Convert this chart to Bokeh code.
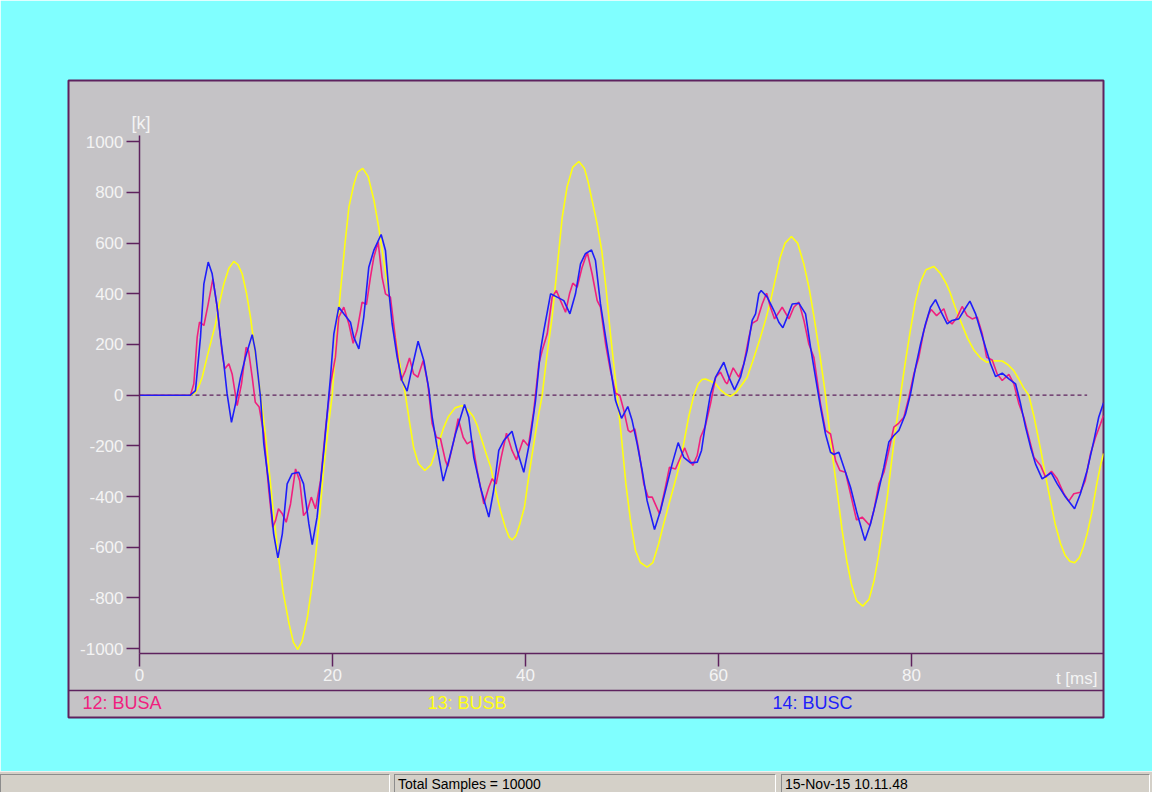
from bokeh.plotting import figure
from bokeh.layouts import column
from bokeh.models import LinearAxis, FixedTicker, Range1d, Label, Span, Div
from bokeh.embed import file_html
from bokeh.resources import INLINE

# ---------------- data (t in ms, values in k) ----------------
Y_TICKS = [-1000, -800, -600, -400, -200, 0, 200, 400, 600, 800, 1000]
X_TICKS = [0, 20, 40, 60, 80]
SERIES_NAMES = ["12: BUSA", "13: BUSB", "14: BUSC"]
STATUS_TEXTS = ["", "Total Samples = 10000", "15-Nov-15 10.11.48"]

ZERO_T = [0, 98.2]
ZERO_V = [0, 0]

BUSB_T = [0.0, 5.3, 5.8, 6.2, 6.5, 7.0, 7.5, 7.88, 8.3, 8.74, 9.25, 9.77, 10.2, 10.64, 11.1, 11.5,
          12.0, 12.54, 13.0, 13.4, 13.9, 14.4, 14.9, 15.5, 15.95, 16.4, 16.85, 17.4, 17.8, 18.24,
          18.7, 19.1, 19.55, 19.97, 20.4, 20.83, 21.3, 21.7, 22.2, 22.6, 23.14, 23.7, 24.3, 24.8,
          25.3, 25.8, 26.2, 26.7, 27.1, 27.56, 28.0, 28.4, 28.9, 29.57, 30.2, 30.9, 31.5, 32.0,
          32.7, 33.44, 34.1, 34.6, 35.0, 35.5, 36.0, 36.4, 36.9, 37.4, 37.9, 38.3, 38.62, 39.0,
          39.4, 39.9, 40.3, 40.7, 41.2, 41.73, 42.2, 42.76, 43.3, 43.8, 44.3, 44.9, 45.53, 46.1,
          46.5, 46.9, 47.4, 47.9, 48.35, 48.8, 49.15, 49.5, 49.95, 50.4, 50.9, 51.4, 51.9, 52.6,
          53.2, 53.8, 54.3, 54.87, 55.4, 55.9, 56.4, 56.9, 57.44, 57.9, 58.3, 58.65, 59.2, 59.7,
          60.2, 60.7, 61.24, 61.8, 62.4, 62.97, 63.6, 64.35, 64.9, 65.4, 65.9, 66.4, 66.9, 67.56,
          68.2, 68.84, 69.4, 69.9, 70.5, 71.09, 71.7, 72.3, 72.8, 73.3, 73.8, 74.3, 74.95, 75.6,
          76.1, 76.6, 77.1, 77.5, 78.0, 78.4, 78.86, 79.4, 79.9, 80.4, 80.9, 81.5, 82.31, 83.0,
          83.6, 84.0, 84.5, 85.06, 85.8, 86.5, 87.2, 87.8, 88.6, 89.4, 90.0, 90.6, 91.1, 91.6,
          92.16, 92.7, 93.4, 93.9, 94.4, 94.9, 95.45, 95.9, 96.4, 96.9, 97.4, 97.8, 98.2, 98.7,
          99.2, 99.6, 99.9]
BUSB_V = [0, 0, 10, 40, 71, 150, 225, 281, 365, 439, 500, 528, 515, 479, 400, 308,
          165, 0, -140, -284, -470, -639, -780, -902, -975, -1003, -970, -876, -770, -639,
          -460, -284, -130, 0, 220, 413, 600, 742, 830, 880, 895, 862, 768, 660,
          531, 410, 300, 189, 95, 0, -110, -205, -270, -297, -275, -200, -130, -85,
          -50, -41, -60, -85, -120, -180, -240, -284, -375, -455, -520, -560, -571, -555,
          -510, -440, -330, -230, -110, 0, 150, 308, 510, 700, 820, 900, 922, 895,
          840, 768, 680, 571, 420, 242, 120, 0, -170, -350, -500, -613, -660, -678,
          -660, -586, -510, -429, -355, -284, -190, -87, 0, 45, 62, 64, 55, 45,
          21, 5, -4, 10, 40, 71, 140, 229, 300, 373, 460, 544, 600, 626,
          600, 518, 420, 308, 160, 0, -205, -380, -530, -655, -750, -810, -832, -805,
          -735, -630, -500, -400, -240, -120, 0, 140, 260, 370, 445, 495, 508, 480,
          440, 405, 350, 295, 225, 176, 145, 130, 136, 135, 120, 97, 65, 30,
          0, -85, -218, -320, -416, -510, -586, -630, -655, -661, -640, -600, -547, -460,
          -350, -275, -230]

BUSA_T = [0, 5.28, 5.63, 5.98, 6.22, 6.67, 7.12, 7.6, 8.05, 8.57, 8.84, 9.26, 9.6, 10.12, 10.57,
          11.05, 11.3, 11.68, 12.0, 12.4, 12.88, 13.4, 13.8, 14.1, 14.4, 14.8, 15.2, 15.65, 16.17,
          16.6, 17.0, 17.4, 17.8, 18.24, 18.76, 19.3, 19.8, 20.3, 20.65, 21.17, 21.7, 22.14, 22.55,
          23.07, 23.52, 23.93, 24.28, 24.73, 25.14, 25.49, 26.0, 26.5, 27.1, 27.56, 27.98, 28.4,
          28.84, 29.4, 29.88, 30.33, 30.77, 31.19, 31.7, 31.95, 32.57, 33.02, 33.54, 33.95, 34.47,
          34.99, 35.68, 36.2, 36.54, 36.96, 37.48, 38.03, 38.6, 39.06, 39.76, 40.3, 40.86, 41.38,
          41.73, 42.25, 42.76, 43.2, 43.63, 44.15, 44.56, 44.9, 45.35, 45.87, 46.4, 46.9, 47.43,
          47.77, 48.3, 48.8, 49.33, 49.78, 50.19, 50.64, 50.88, 51.33, 51.74, 52.26, 52.7, 53.13,
          53.89, 54.5, 54.92, 55.54, 56.06, 56.5, 56.93, 57.34, 57.79, 58.14, 58.65, 59.17, 59.7,
          60.2, 60.73, 60.9, 61.52, 62.11, 62.63, 63.15, 63.49, 64.0, 64.53, 64.98, 65.39, 65.81,
          66.6, 67.3, 67.81, 68.33, 68.85, 69.36, 69.88, 70.57, 71.09, 71.61, 72.13, 72.58, 73.16,
          73.68, 74.3, 74.89, 75.68, 76.1, 76.62, 77.14, 77.65, 78.17, 78.69, 79.21, 79.73, 80.25,
          80.76, 81.28, 81.8, 82.04, 82.6, 83.35, 83.77, 84.2, 84.74, 85.25, 85.77, 86.29, 86.81,
          87.33, 87.78, 88.36, 88.88, 89.4, 90.09, 90.61, 91.13, 91.64, 92.16, 92.68, 93.37, 93.89,
          94.5, 95.1, 95.79, 96.3, 96.82, 97.5, 98.0, 98.55, 99.07, 99.59, 99.9]
BUSA_V = [0, 0, 45, 229, 288, 275, 360, 459, 347, 163, 104, 124, 84, -41, 45,
          189, 175, 71, -28, -47, -153, -376, -521, -494, -448, -468, -501, -429, -291,
          -337, -475, -455, -402, -448, -337, -126, 45, 150, 308, 347, 281, 205, 255,
          367, 358, 465, 544, 604, 465, 400, 387, 229, 58, 97, 147, 84,
          71, 137, 45, -113, -166, -172, -258, -281, -179, -93, -166, -192, -179,
          -297, -429, -363, -330, -350, -245, -150, -218, -255, -176, -200, -60, 124,
          176, 242, 387, 413, 373, 327, 400, 442, 426, 505, 564, 479, 373,
          347, 202, 97, 8, -1, -60, -139, -146, -133, -218, -350, -402, -402,
          -468, -363, -284, -291, -245, -208, -251, -277, -238, -166, -120, -34, 71,
          91, 51, 45, 108, 71, 124, 229, 284, 295, 360, 402, 347, 301,
          347, 301, 347, 367, 295, 202, 150, -34, -139, -153, -258, -297, -304,
          -389, -492, -481, -514, -455, -350, -304, -218, -126, -110, -87, -8, 85,
          150, 255, 321, 338, 314, 341, 295, 281, 308, 350, 314, 301, 308,
          242, 150, 139, 84, 58, 82, 45, -34, -87, -166, -245, -277, -323,
          -300, -330, -389, -418, -389, -383, -337, -231, -166, -113, -80]

BUSC_T = [0, 5.28, 5.8, 6.32, 6.67, 7.12, 7.53, 8.05, 8.39, 8.74, 9.08, 9.53, 9.95, 10.47, 10.98,
          11.68, 12.0, 12.54, 12.88, 13.4, 13.9, 14.34, 14.8, 15.3, 15.8, 16.5, 17.0, 17.55, 17.9,
          18.4, 19.1, 19.79, 20.14, 20.65, 21.17, 21.86, 22.2, 22.73, 23.24, 23.76, 24.28, 25.04,
          25.49, 25.83, 26.18, 26.7, 27.2, 27.73, 28.25, 28.87, 29.46, 29.98, 30.33, 30.84, 31.47,
          32.05, 32.74, 33.68, 34.12, 34.64, 35.33, 36.2, 36.7, 37.23, 37.75, 38.6, 39.13, 39.82,
          40.5, 41.04, 41.55, 41.9, 42.6, 43.28, 43.97, 44.6, 45.18, 45.7, 46.2, 46.84, 47.25,
          47.77, 48.3, 48.8, 49.33, 49.95, 50.6, 51.05, 51.57, 52.09, 52.6, 53.37, 53.99, 54.68,
          55.2, 55.82, 56.4, 57.1, 57.8, 58.24, 58.65, 59.17, 59.7, 60.55, 61.07, 61.66, 62.28,
          62.97, 63.49, 63.84, 64.18, 64.42, 65.05, 65.74, 66.25, 66.67, 67.12, 67.64, 68.33,
          69.02, 69.54, 70.05, 70.57, 71.09, 71.61, 71.95, 72.47, 72.99, 73.68, 74.37, 75.17,
          75.75, 76.44, 77.14, 77.65, 78.17, 78.69, 79.38, 79.9, 80.42, 80.94, 81.45, 81.97,
          82.49, 83.0, 83.7, 84.2, 84.9, 85.43, 86.05, 86.64, 87.15, 87.67, 88.19, 88.71, 89.4,
          90.09, 90.78, 91.3, 91.82, 92.34, 92.85, 93.54, 94.48, 95.1, 95.96, 96.9, 97.5, 98.2,
          98.9, 99.4, 99.9]
BUSC_V = [0, 0, 18, 229, 439, 525, 479, 347, 229, 124, 5, -107, -34, 71, 150,
          239, 176, -8, -192, -350, -547, -642, -547, -350, -310, -304, -350, -508, -589,
          -481, -218, 71, 242, 347, 321, 288, 229, 183, 308, 505, 571, 634,
          571, 413, 281, 150, 58, 16, 110, 213, 137, 25, -87, -205, -339,
          -258, -153, -37, -87, -245, -363, -481, -376, -218, -179, -142, -218, -304,
          -170, -21, 176, 255, 400, 387, 373, 321, 400, 518, 558, 573, 531,
          360, 229, 110, -21, -91, -45, -100, -192, -297, -416, -530, -455, -350,
          -271, -187, -245, -267, -264, -218, -113, 5, 71, 130, 71, 21, 71,
          176, 295, 321, 400, 413, 387, 334, 288, 266, 308, 360, 363,
          321, 189, 71, -47, -153, -225, -234, -225, -284, -363, -468, -573,
          -508, -402, -284, -185, -159, -139, -74, 5, 110, 202, 281, 347,
          377, 334, 281, 295, 301, 334, 371, 321, 255, 189, 124, 74, 87,
          64, 45, -34, -126, -205, -271, -330, -306, -350, -402, -448, -389, -297,
          -179, -87, -30]

# status-bar cells (left edge, width) in page pixels
CELL_LEFT = [0, 394, 781]
CELL_WIDTH = [392, 384, 371]

# ---------------- styling ----------------
CYAN = "#80FFFF"
GRAY = "#C5C3C6"
PURPLE = "#5E225E"
WHITE_TXT = "#F4F4F4"
PINK = "#F0207E"
YELLOW = "#FFFF10"
BLUE = "#1E1EFA"
FONT = "Liberation Sans"
BAR_GRAY = "#D4D0C8"

W = 1152
H_MAIN = 771
H_BAR = 21
FRAME_L, FRAME_R = 68, 1103

p = figure(width=W, height=H_MAIN, output_backend="svg", toolbar_location=None,
           x_range=Range1d(-7.358, 99.896), y_range=Range1d(-1271.4, 1241.4),
           x_axis_type=None, y_axis_type=None,
           min_border_left=FRAME_L, min_border_right=W - FRAME_R, min_border_top=80, min_border_bottom=54)
p.border_fill_color = CYAN
p.background_fill_color = GRAY
p.outline_line_color = PURPLE
p.outline_line_width = 2


def style_axis(ax):
    ax.axis_line_color = PURPLE
    ax.axis_line_width = 1.5
    ax.major_tick_line_color = PURPLE
    ax.major_tick_line_width = 1.5
    ax.major_tick_out = 13
    ax.major_tick_in = 0
    ax.minor_tick_out = 0
    ax.minor_tick_in = 0
    ax.minor_tick_line_color = None
    ax.major_label_text_color = WHITE_TXT
    ax.major_label_text_font = FONT
    ax.major_label_text_font_size = "17px"


yaxis = LinearAxis(fixed_location=0, bounds=(-1019, 1024), ticker=FixedTicker(ticks=Y_TICKS))
style_axis(yaxis)
yaxis.major_label_standoff = 3
yaxis.major_label_overrides = {v: str(v) for v in Y_TICKS}
p.add_layout(yaxis, "left")

xaxis = LinearAxis(fixed_location=-1019, bounds=(0, 99.9), ticker=FixedTicker(ticks=X_TICKS))
style_axis(xaxis)
xaxis.major_label_standoff = 2
xaxis.major_label_overrides = {v: str(v) for v in X_TICKS}
p.add_layout(xaxis, "below")

# legend separator line
p.add_layout(Span(location=-1164.9, dimension="width", line_color=PURPLE, line_width=1.5))

# zero dashed line
p.line(ZERO_T, ZERO_V, line_color=PURPLE, line_width=1.3, line_dash="4 3")

# series
p.line(BUSB_T, BUSB_V, line_color=YELLOW, line_width=1.6)
p.line(BUSA_T, BUSA_V, line_color=PINK, line_width=1.6)
p.line(BUSC_T, BUSC_V, line_color=BLUE, line_width=1.6)

# axis labels
p.add_layout(Label(x=-0.83, y=1075, text="[k]", text_color=WHITE_TXT, text_font=FONT,
                   text_font_size="18px", text_align="left", text_baseline="middle"))
p.add_layout(Label(x=99.27, y=-1117, text="t [ms]", text_color=WHITE_TXT, text_font=FONT,
                   text_font_size="17px", text_align="right", text_baseline="middle"))

# legend texts
for name, xx, col in zip(SERIES_NAMES, [-5.91, 29.84, 65.6], [PINK, YELLOW, BLUE]):
    p.add_layout(Label(x=xx, y=-1216, text=name, text_color=col, text_font=FONT,
                       text_font_size="18px", text_align="left", text_baseline="middle"))

# ---------------- status bar strip (HTML) ----------------
cells = ""
for left, wdt, txt in zip(CELL_LEFT, CELL_WIDTH, STATUS_TEXTS):
    cells += (
        f'<div style="position:absolute;left:{left}px;top:2px;width:{wdt - 2}px;height:19px;'
        f'border-top:1px solid #8C8C8C;border-left:1px solid #8C8C8C;border-right:1px solid #FFFFFF;'
        f'padding-left:3px;box-sizing:border-box;font-family:\'Liberation Sans\';font-size:14px;'
        f'line-height:18px;color:#000;white-space:nowrap;overflow:hidden;">{txt}</div>'
    )
bar_html = (
    f'<div style="position:relative;width:{W}px;height:{H_BAR}px;background:{BAR_GRAY};'
    f'border-top:1px solid #F0F0F0;box-sizing:border-box;overflow:hidden;">{cells}</div>'
)
bar = Div(text=bar_html, width=W, height=H_BAR, margin=0)

layout = column(p, bar, spacing=0)
open("out.html", "w").write(file_html(layout, INLINE))
